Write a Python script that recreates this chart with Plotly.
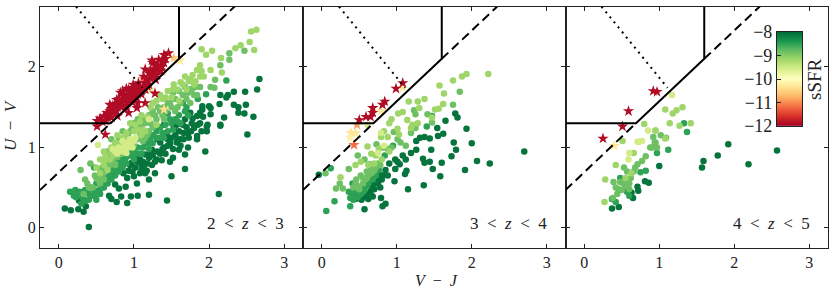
"""UVJ colour-colour diagram in three redshift bins, coloured by sSFR."""
import numpy as np
import plotly.graph_objects as go

# sSFR levels used for the colour groups
SSFR_DARK, SSFR_MID, SSFR_GREEN, SSFR_LIGHT, SSFR_PALE = -8.1, -8.5, -8.85, -9.15, -9.55
SSFR_RED = -11.9

# (V-J, U-V) per panel and colour group
P1_DARK = [(.40, .01), (.33, .2), (.26, .23), (.16, .22), (.08, .24), (.36, .27), (.27, .34), (.91, .31), (.77, .32),
           (.70, .36), (.67, .4), (.83, .39), (.96, .39), (1.05, .4), (1.2, .41), (1.44, .34), (2.13, .42), (.89, .51),
           (1.04, .55), (.8, .49), (.75, .54), (1.5, .64), (1.68, .73), (1.2, .6), (1.95, .95), (1.68, .91), (1.48, .82),
           (1.52, .87), (1.37, .84), (1.72, 1.0), (1.6, .97), (1.84, 1.1), (1.0, .64), (.91, .62), (1.08, .68),
           (1.17, .71), (1.28, .68), (1.24, .78), (1.13, .75), (1.02, .75), (.93, .71), (.86, .68), (.97, .81),
           (1.08, .85), (1.2, .87), (1.31, .95), (1.4, 1.0), (1.48, 1.04), (1.24, .97), (1.15, .91), (1.35, 1.06),
           (1.57, 1.06), (1.66, 1.1), (2.15, 1.28), (2.51, 1.16), (1.97, 1.26), (1.88, 1.3), (1.84, 1.39), (1.75, 1.43),
           (2.0, 1.51), (1.91, 1.51), (1.8, 1.24), (1.84, 1.14), (1.66, 1.18), (1.53, 1.24), (1.44, 1.18), (1.62, 1.1),
           (1.48, 1.06), (1.73, 1.12), (1.97, 1.2), (1.77, 1.3), (1.68, 1.35), (1.57, 1.28), (1.4, 1.28), (1.31, 1.1),
           (1.88, 1.43), (2.02, 1.41), (2.67, 1.85), (2.64, 1.72), (2.48, 1.69), (2.33, 1.69), (2.25, 1.65), (2.15, 1.65),
           (2.23, 1.62), (2.14, 1.54), (2.33, 1.53), (2.39, 1.5), (2.49, 1.53), (2.39, 1.43), (2.47, 1.42), (2.59, 1.38),
           (2.2, 1.37), (2.15, 1.27), (1.98, 1.28), (1.91, 1.47), (2.02, 1.49), (1.92, 1.38), (1.78, 1.36), (1.02, .88),
           (1.12, .82), (1.25, .9), (1.38, .98), (1.45, 1.1), (1.55, 1.15), (1.6, 1.2), (1.7, 1.25), (.98, .7), (1.1, .78),
           (1.1, .72), (1.18, .8), (1.3, .85), (1.42, .92), (1.52, .98), (1.62, 1.02), (1.72, 1.18), (1.5, 1.12), (1.35, .92),
           (1.28, .82), (1.58, 1.1), (1.76, 1.2), (1.9, 1.2), (1.85, 1.28), (1.65, 1.28), (1.45, 1.02), (1.22, .92),
           (1.05, .82), (1.15, .68), (.95, .78)]
P1_MID = [(.15, .45), (.22, .47), (.2, .4), (.3, .42), (.35, .47), (.3, .3), (.4, .35), (.45, .4), (.5, .35), (.55, .42),
          (.42, .5), (.5, .55), (.6, .5), (.65, .55), (.7, .6), (.75, .65), (.8, .7), (.85, .75), (.9, .8), (.7, .75),
          (.8, .85), (.95, .9), (1.0, .95), (1.05, 1.0), (1.1, .92), (1.2, .98), (1.25, 1.05), (1.3, 1.12), (1.15, 1.05),
          (1.4, 1.12), (1.45, 1.2), (1.35, 1.25), (1.5, 1.3), (1.6, 1.4), (1.55, 1.35), (1.7, 1.5), (1.65, 1.55),
          (1.45, 1.42), (.47, .75), (.23, .38), (.35, .33), (.85, .85), (.9, .88), (1.0, .85), (1.35, 1.12), (1.25, 1.15),
          (1.96, 1.66), (2.23, 1.83), (1.75, 1.72), (1.85, 1.6), (.5, .42), (.58, .52), (.65, .63), (.92, .95), (1.08, .92),
          (.25, .43), (.32, .37), (.28, .45), (.4, .42), (.47, .47), (.55, .48), (.62, .58), (.68, .65), (.72, .7), (.78, .75),
          (.82, .78), (.88, .83), (.75, .72), (.98, .98), (1.02, .92), (1.12, 1.0), (1.18, 1.05), (1.22, 1.12), (1.3, 1.2),
          (1.38, 1.18), (1.42, 1.28), (1.48, 1.35), (1.52, 1.22), (1.58, 1.32), (1.62, 1.3), (1.68, 1.45), (1.72, 1.4)]
P1_GREEN = [(.29, .72), (.35, .6), (.42, .8), (.38, .55), (.55, .72), (.6, .7), (.6, .85), (.65, .8), (.7, .85), (.65, .95),
            (.75, .9), (.6, .6), (.5, .62), (.8, .95), (.85, 1.0), (.95, 1.02), (1.0, 1.03), (.4, .5), (.45, .5), (.33, .42),
            (1.05, 1.1), (1.15, 1.12), (1.2, 1.2), (.7, 1.1), (.8, 1.1), (.85, 1.2), (.95, 1.2), (1.0, 1.3), (1.1, 1.25),
            (1.15, 1.3), (1.25, 1.25), (1.3, 1.35), (1.4, 1.35), (1.05, 1.35), (1.2, 1.4), (1.25, 1.45), (1.35, 1.45),
            (1.45, 1.55), (1.4, 1.5), (1.5, 1.5), (1.55, 1.6), (1.6, 1.7), (1.65, 1.65), (1.7, 1.6), (1.75, 1.55),
            (2.27, 2.09), (2.15, 2.02), (2.47, 2.2), (2.27, 2.17), (2.08, 1.84), (1.84, 1.65), (2.02, 1.75), (2.07, 1.74),
            (1.77, 1.72), (1.88, 1.75), (1.55, 1.45), (.75, .78), (.55, .55), (.48, .65), (.52, .6), (.58, .65), (.62, .72),
            (.68, .78), (.72, .82), (.78, .88), (.82, .92), (.58, .75), (.65, .88), (.7, .92), (.78, 1.05), (.88, 1.12),
            (.92, 1.15), (.98, 1.25), (1.05, 1.28), (1.12, 1.35), (1.18, 1.32), (1.22, 1.3), (1.28, 1.4), (1.32, 1.5),
            (1.38, 1.4), (1.42, 1.45), (1.48, 1.55), (1.52, 1.68), (1.58, 1.5), (1.62, 1.55), (1.68, 1.75), (1.72, 1.68),
            (1.8, 1.65), (1.82, 1.75), (1.08, 1.18), (1.12, 1.08), (1.18, 1.16)]
P1_LIGHT = [(2.63, 2.46), (2.56, 2.44), (2.42, 2.27), (2.35, 2.23), (2.54, 2.31), (2.6, 2.21), (2.16, 2.11), (2.04, 2.2),
            (1.96, 2.15), (1.9, 2.22), (1.88, 2.02), (2.02, 1.96), (1.84, 1.96), (1.78, 1.9), (1.93, 1.88), (2.17, 1.93),
            (1.73, 1.82), (1.88, 1.88), (1.62, 1.81), (1.53, 1.78), (1.8, 1.78), (1.7, 1.72), (1.45, 1.7), (1.35, 1.65),
            (1.25, 1.55), (1.5, 1.62), (1.6, 1.58), (1.1, 1.4), (.95, 1.3), (.9, 1.18), (.8, 1.05), (.7, 1.0), (.6, .95),
            (.55, .85), (.5, .75), (.6, .78), (.65, .72), (.55, .68), (.72, .9), (.78, 1.15), (.85, 1.12), (1.0, 1.2),
            (1.1, 1.16), (1.05, 1.22), (1.15, 1.2), (1.3, 1.28), (.68, .85), (.75, .98), (.62, .9), (.62, .85), (.7, .95),
            (.75, 1.05), (.82, 1.0), (.9, 1.1), (1.02, 1.28), (1.12, 1.22), (1.18, 1.38), (1.08, 1.32), (1.22, 1.5),
            (1.3, 1.58), (1.38, 1.6), (1.42, 1.62), (1.58, 1.72), (1.65, 1.78), (1.75, 1.85), (1.82, 1.82), (1.68, 1.88),
            (1.9, 1.95), (1.52, 1.72)]
P1_PALE = [(.52, 1.03), (.88, 1.03), (.92, 1.0), (.85, .95), (.9, .93), (1.0, 1.08), (.75, .95), (.8, 1.0), (.85, 1.08),
           (1.2, 1.35), (.95, 1.1), (.98, 1.0), (.82, .98), (.87, 1.0), (.93, 1.06), (.96, 1.04), (.78, .92), (1.02, 1.12),
           (.72, .98), (.88, .98)]
P1_STARS_RED = [(1.46, 2.17), (1.33, 2.09), (1.28, 2.02), (1.15, 1.97), (1.26, 1.94), (1.35, 1.96), (1.13, 1.88), (1.0, 1.74),
                (1.06, 1.8), (1.17, 1.8), (.93, 1.72), (.86, 1.63), (.97, 1.63), (.77, 1.59), (.68, 1.53), (.82, 1.51),
                (.91, 1.55), (1.28, 1.67), (1.15, 1.55), (1.04, 1.49), (.93, 1.43), (.77, 1.45), (.6, 1.39), (.51, 1.33),
                (.66, 1.41), (.51, 1.26), (.62, 1.16), (1.24, 2.08), (1.4, 2.05), (1.3, 1.97), (1.22, 1.86), (1.29, 1.84),
                (1.08, 1.72), (1.02, 1.68), (1.12, 1.74), (.9, 1.65), (.84, 1.56), (.73, 1.49), (.98, 1.56), (.88, 1.47),
                (.78, 1.39), (.7, 1.37), (.95, 1.7), (1.04, 1.62), (1.1, 1.66), (.99, 1.78), (.8, 1.54), (1.18, 1.76),
                (1.2, 1.92), (1.37, 2.0), (1.05, 1.55), (.72, 1.44), (.62, 1.33), (.92, 1.6), (.75, 1.54), (.85, 1.7),
                (.55, 1.36), (.58, 1.32), (.65, 1.37), (.68, 1.45), (.72, 1.52), (.75, 1.45), (.78, 1.5), (.8, 1.6),
                (.85, 1.52), (.88, 1.6), (.9, 1.5), (.93, 1.65), (.95, 1.58), (.98, 1.66), (1.0, 1.6), (1.02, 1.72),
                (1.05, 1.66), (1.08, 1.76), (1.1, 1.7), (1.14, 1.8), (1.15, 1.72), (1.18, 1.84), (1.2, 1.78), (1.22, 1.95),
                (1.25, 1.88), (1.27, 1.98), (1.3, 1.9), (1.32, 2.02), (1.35, 1.95), (1.38, 2.08), (1.42, 2.1), (1.25, 2.05),
                (1.4, 2.15), (.82, 1.68), (.9, 1.73), (.87, 1.58), (.7, 1.48), (.64, 1.43)]
# (V-J, U-V, sSFR) for the non-red stars of panel 1
P1_STARS_WARM = [(1.53, 2.11, -10.6), (1.61, 2.08, -10.3), (1.13, 1.85, -11.0), (1.38, 1.95, -10.8), (1.4, 1.47, -10.4),
                 (1.22, 1.72, -10.3)]

P2_DARK = [(2.7, .95), (2.0, 1.05), (1.76, 1.06), (1.79, .97), (1.73, .89), (1.46, .97), (1.26, .97), (1.19, .93), (1.12, .85),
           (1.35, .86), (1.37, .81), (1.44, .82), (1.6, .81), (2.07, .83), (2.24, .8), (1.91, .72), (1.48, .73), (1.58, .64),
           (1.36, .53), (1.15, .48), (.97, .58), (1.13, .71), (1.11, .67), (1.01, .82), (1.04, .79), (.98, .73), (.79, .37),
           (.85, .3), (.81, .27), (.57, .23), (.68, .39), (1.81, 1.37), (1.78, 1.42), (1.65, 1.33), (1.54, 1.24), (1.93, 1.23),
           (1.62, 1.17), (1.55, 1.14), (1.44, 1.11), (1.37, 1.13), (1.31, 1.12), (1.26, 1.08), (-.04, .66), (.5, .37),
           (.55, .38), (.6, .42), (.65, .45), (.7, .55), (.75, .55), (.8, .6), (.78, .5), (.82, .65), (.75, .62), (.85, .72),
           (.88, .65), (.7, .48), (.45, .36), (.62, .36), (.9, .8), (.98, .85), (1.08, .9), (.58, .4), (.66, .52), (.72, .58),
           (.78, .66), (.53, .35), (.42, .38)]
P2_MID = [(.38, .27), (.06, .21), (.17, .33), (.38, .37), (.42, .35), (.45, .4), (.4, .43), (.47, .45), (.52, .42), (.55, .45),
          (1.4, 1.26), (1.47, 1.39), (.6, .52), (.65, .62), (.72, .65), (.36, .45), (.41, .55), (.12, .74), (.84, .9),
          (.95, 1.02), (.55, .5), (.48, .38), (.44, .47), (.5, .44), (.57, .47), (.62, .55), (.68, .6), (.4, .38), (.76, .72)]
P2_GREEN = [(1.84, 1.69), (1.75, 1.53), (1.47, 1.31), (1.41, 1.41), (1.23, 1.46), (1.25, 1.41), (1.25, 1.24), (1.19, 1.18),
            (.96, 1.19), (1.01, 1.1), (1.05, 1.06), (1.12, 1.02), (.73, 1.04), (.42, .5), (.48, .52), (.45, .55), (.5, .48),
            (.55, .55), (.58, .6), (.62, .65), (.68, .7), (.72, .75), (.65, .72), (.6, .7), (.75, .8), (.78, .78), (.05, .68),
            (.19, .49), (.28, .49), (.24, .55), (.36, .73), (.48, .9), (.57, .85), (.64, .79), (.82, 1.0), (.88, .98),
            (.93, 1.0), (.46, .6), (.52, .65), (.55, .62), (.6, .62), (.66, .68), (.7, .72)]
P2_LIGHT = [(2.22, 1.91), (1.93, 1.91), (1.87, 1.88), (1.75, 1.83), (1.57, 1.77), (1.63, 1.67), (1.37, 1.6), (1.28, 1.57),
            (1.16, 1.57), (1.3, 1.49), (1.62, 1.54), (1.56, 1.48), (1.51, 1.47), (1.47, 1.37), (1.14, 1.34), (1.08, 1.44),
            (1.02, 1.42), (.93, 1.35), (.9, 1.3), (1.21, 1.28), (1.28, 1.3), (1.19, 1.24), (1.01, 1.23), (1.03, 1.16),
            (.83, 1.2), (.79, 1.13), (.88, 1.13), (.61, 1.01), (.25, .63), (.7, .8), (.62, .78), (.72, .9),
            (.8, .85), (.9, .95), (.66, .92), (.45, .78), (.52, .82), (.76, .98)]
P2_PALE = [(.61, 1.28), (.79, 1.18), (.83, 1.02), (.75, .93)]
P2_STARS_RED = [(1.08, 1.8), (.99, 1.73), (.84, 1.57), (.81, 1.53), (.68, 1.49), (.68, 1.43), (.59, 1.38), (.65, 1.38), (.5, 1.34)]
P2_STARS_WARM = [(1.08, 1.74, -10.3), (.79, 1.45, -10.3), (.47, 1.28, -10.9), (.39, 1.18, -10.4), (.45, 1.18, -10.3),
                 (.38, 1.12, -10.2), (.43, 1.03, -11.2)]

P3_DARK = [(1.92, 1.04), (2.57, .96), (1.78, .9), (1.59, .83), (1.57, .75), (2.19, .79), (1.0, .77), (.37, .24), (.46, .26),
           (.65, .37), (.63, .44), (.72, .46), (.71, .51), (.81, .58), (.86, .56)]
P3_MID = [(.97, .93), (1.12, .97), (1.37, 1.19), (1.33, 1.3), (.82, .71), (.75, .69), (.48, .62), (.42, .32), (.37, .36),
          (.57, .45), (.6, .4)]
P3_GREEN = [(.44, .42), (.38, .37), (.46, .48), (.55, .52), (.39, .57), (.48, .57), (.57, .6), (.53, .75), (.57, .7), (.66, .7),
            (.71, .79), (.77, .83), (.82, .89), (.91, 1.0), (.95, 1.06), (.94, 1.06), (.88, 1.0), (.97, 1.0), (1.02, 1.15),
            (1.09, 1.12), (.92, 1.13), (.6, .55), (.62, .62), (.68, .75), (.5, .47), (.52, .55), (.6, .48), (.42, .5)]
P3_LIGHT = [(1.31, 1.5), (1.23, 1.46), (1.18, 1.42), (1.08, 1.47), (1.14, 1.3), (1.27, 1.27), (1.42, 1.3), (.8, 1.29), (.95, 1.21),
            (.51, 1.08), (.42, .78), (.28, .6), (.27, .32), (1.08, 1.11), (.95, 1.21), (.66, .93), (.55, .62), (.63, .68)]
P3_PALE = [(1.17, 1.65), (.85, 1.21), (.73, 1.07), (.77, 1.08), (.59, .85), (.6, .93), (.71, 1.07)]
P3_STARS_RED = [(.92, 1.7), (.97, 1.69), (.59, 1.45), (.51, 1.26), (.25, 1.11)]
P3_STARS_WARM = [(.4, 1.02, -10.3)]

PANELS = [
    dict(dark=P1_DARK, mid=P1_MID, green=P1_GREEN, light=P1_LIGHT, pale=P1_PALE, red=P1_STARS_RED, warm=P1_STARS_WARM, label='2'),
    dict(dark=P2_DARK, mid=P2_MID, green=P2_GREEN, light=P2_LIGHT, pale=P2_PALE, red=P2_STARS_RED, warm=P2_STARS_WARM, label='3'),
    dict(dark=P3_DARK, mid=P3_MID, green=P3_GREEN, light=P3_LIGHT, pale=P3_PALE, red=P3_STARS_RED, warm=P3_STARS_WARM, label='4'),
]
X_TICKS = [0, 1, 2, 3]
Y_TICKS = [0, 1, 2]
CBAR_TICKS = [-8, -9, -10, -11, -12]

# UVJ selection lines
WEDGE_VJ = [-0.25, 0.69, 1.6, 1.6]
WEDGE_UV = [1.3, 1.3, 2.1, 2.75]
DASH_LOW_VJ, DASH_LOW_UV = [-0.25, 0.69], [0.47, 1.3]
DASH_HIGH_VJ, DASH_HIGH_UV = [1.6, 2.34], [2.1, 2.75]
DOT_VJ, DOT_UV = [0.23, 1.11], [2.75, 1.74]

WIDTH, HEIGHT = 831, 291
FONT = 'Liberation Serif'
INK = '#222222'
X_RANGES = [(40, 303), (303, 565.5), (565.5, 828)]
TOP, BOTTOM = 6.5, 248


def _circles(points, ssfr, xaxis, yaxis):
    return go.Scatter(
        x=[p[0] for p in points], y=[p[1] for p in points], mode='markers', xaxis=xaxis, yaxis=yaxis,
        marker=dict(symbol='circle', size=6.5, color=[ssfr] * len(points), colorscale='RdYlGn', cmin=-12, cmax=-8,
                    line=dict(width=0)),
        showlegend=False, hoverinfo='skip',
    )


def _stars(vj, uv, ssfr, xaxis, yaxis):
    return go.Scatter(
        x=vj, y=uv, mode='markers', xaxis=xaxis, yaxis=yaxis,
        marker=dict(symbol='star', size=8.5, color=ssfr, colorscale='RdYlGn', cmin=-12, cmax=-8, line=dict(width=0)),
        showlegend=False, hoverinfo='skip',
    )


def _line(x, y, dash, xaxis, yaxis):
    return go.Scatter(x=x, y=y, mode='lines', xaxis=xaxis, yaxis=yaxis,
                      line=dict(color='black', width=2, dash=dash), showlegend=False, hoverinfo='skip')


fig = go.Figure()
axis_style = dict(ticks='inside', ticklen=4, tickwidth=1.2, tickcolor=INK, showline=True, linecolor=INK, linewidth=1.2,
                  mirror='ticks', showgrid=False, zeroline=False, automargin=False,
                  tickfont=dict(family=FONT, size=16, color=INK))

for i, panel in enumerate(PANELS):
    suffix = '' if i == 0 else str(i + 1)
    xa, ya = 'x' + suffix, 'y' + suffix

    fig.add_trace(_circles(panel['dark'], SSFR_DARK, xa, ya))
    fig.add_trace(_circles(panel['mid'], SSFR_MID, xa, ya))
    fig.add_trace(_circles(panel['green'], SSFR_GREEN, xa, ya))
    fig.add_trace(_circles(panel['light'], SSFR_LIGHT, xa, ya))
    fig.add_trace(_circles(panel['pale'], SSFR_PALE, xa, ya))
    fig.add_trace(_stars([p[0] for p in panel['warm']], [p[1] for p in panel['warm']],
                         [p[2] for p in panel['warm']], xa, ya))
    fig.add_trace(_stars([p[0] for p in panel['red']], [p[1] for p in panel['red']],
                         [SSFR_RED] * len(panel['red']), xa, ya))

    fig.add_trace(_line(WEDGE_VJ, WEDGE_UV, 'solid', xa, ya))
    fig.add_trace(_line(DASH_LOW_VJ, DASH_LOW_UV, '9px,5px', xa, ya))
    fig.add_trace(_line(DASH_HIGH_VJ, DASH_HIGH_UV, '9px,5px', xa, ya))
    fig.add_trace(_line(DOT_VJ, DOT_UV, '2px,4.5px', xa, ya))

    left, right = X_RANGES[i]
    fig.update_layout({
        'xaxis' + suffix: dict(domain=[left / WIDTH, right / WIDTH], range=[-0.25, 3.25], tickvals=X_TICKS,
                               anchor=ya, **axis_style),
        'yaxis' + suffix: dict(domain=[1 - BOTTOM / HEIGHT, 1 - TOP / HEIGHT], range=[-0.25, 2.75], tickvals=Y_TICKS,
                               anchor=xa, showticklabels=i == 0, **axis_style),
    })
    fig.add_annotation(
        xref=xa, yref=ya, x=3.03, y=0.06, xanchor='right', yanchor='middle', showarrow=False,
        text=f"{panel['label']}\u2002&lt;\u2002<i>z</i>\u2002&lt;\u2002{int(panel['label']) + 1}",
        font=dict(family=FONT, size=17, color=INK),
    )

# colour bar drawn as a small inset axes so its labels can sit on the left
ramp = np.linspace(-12, -8, 256)
fig.add_trace(go.Heatmap(x=[0, 1], y=ramp, z=np.column_stack([ramp, ramp]), colorscale='RdYlGn', zmin=-12, zmax=-8,
                         showscale=False, xaxis='x4', yaxis='y4', hoverinfo='skip'))
fig.update_layout(
    xaxis4=dict(domain=[777 / WIDTH, 802 / WIDTH], range=[0, 1], anchor='y4', showticklabels=False, ticks='',
                showline=True, linecolor=INK, linewidth=1.2, mirror=True, showgrid=False, zeroline=False, automargin=False),
    yaxis4=dict(domain=[1 - 126 / HEIGHT, 1 - 32 / HEIGHT], range=[-12, -8], anchor='x4', side='left', tickvals=CBAR_TICKS,
                ticktext=[f'\u2212{abs(t)}' for t in CBAR_TICKS], ticks='inside', ticklen=4, tickwidth=1.2, tickcolor=INK,
                showline=True, linecolor=INK, linewidth=1.2, mirror=True, showgrid=False, zeroline=False, automargin=False,
                tickfont=dict(family=FONT, size=18, color=INK)),
    width=WIDTH, height=HEIGHT, margin=dict(l=0, r=0, t=0, b=0), plot_bgcolor='white', paper_bgcolor='white',
    showlegend=False,
)
fig.add_annotation(xref='paper', yref='paper', x=815 / WIDTH, y=1 - 79 / HEIGHT, xanchor='center', yanchor='middle',
                   text='sSFR', textangle=-90, showarrow=False, font=dict(family=FONT, size=19, color=INK))
fig.add_annotation(xref='paper', yref='paper', x=436 / WIDTH, y=0, xanchor='center', yanchor='bottom',
                   text='<i>V</i>\u2002\u2212\u2002<i>J</i>', showarrow=False, font=dict(family=FONT, size=16, color=INK))
fig.add_annotation(xref='paper', yref='paper', x=10 / WIDTH, y=1 - 125 / HEIGHT, xanchor='center', yanchor='middle',
                   text='<i>U</i>\u2002\u2212\u2002<i>V</i>', textangle=-90, showarrow=False,
                   font=dict(family=FONT, size=17, color=INK))

fig.write_html("out.html", config=dict(displayModeBar=False),
               post_script="document.body.style.margin='0';document.body.style.overflow='hidden';")
